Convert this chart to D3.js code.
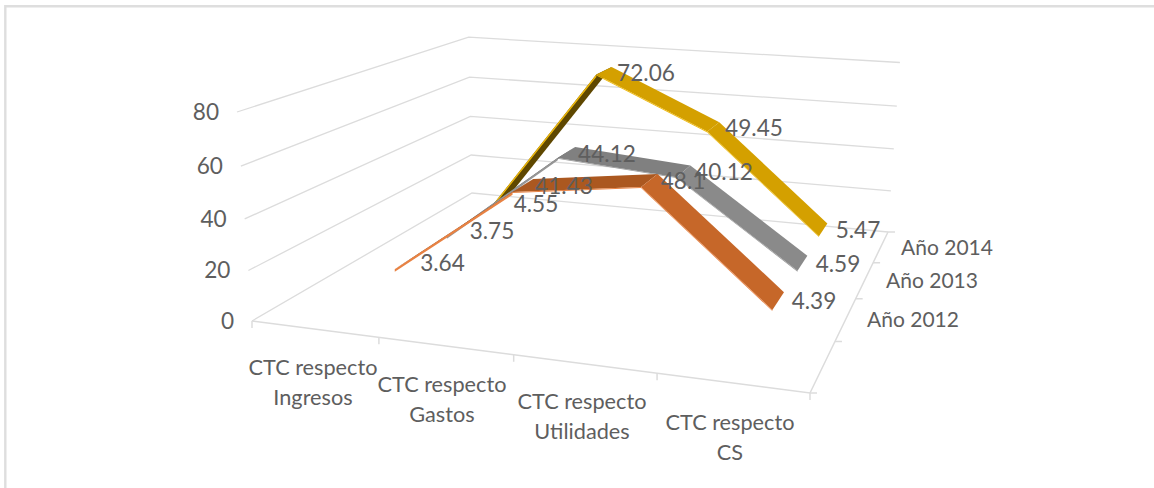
<!DOCTYPE html>
<html lang="es">
<head>
<meta charset="utf-8">
<script src="https://cdn.jsdelivr.net/npm/d3@7/dist/d3.min.js"></script>
<style>
  html, body { margin: 0; padding: 0; background: #fff; }
  svg { display: block; }
  text { font-family: Lato, "Open Sans", sans-serif; font-size: 21.7px; fill: #5E5E5E; }
  .num { font-size: 22.6px; }
  .depth { font-size: 21px; }
</style>
</head>
<body>
<svg id="chart" width="1154" height="488"></svg>
<script>
// Ratios per category and year
const categories = ["CTC respecto Ingresos", "CTC respecto Gastos", "CTC respecto Utilidades", "CTC respecto CS"];
const years = ["", "Año 2012", "Año 2013", "Año 2014"];
const year2012 = [3.64, 41.43, 48.1, 4.39];
const year2013 = [3.75, 44.12, 40.12, 4.59];
const year2014 = [4.55, 72.06, 49.45, 5.47];
const valueTicks = [0, 20, 40, 60, 80];

const seriesList = [
  { year: "Año 2014", values: year2014, top: "#D4A000", under: "#5E4700", edge: "#EDB80C", mid: "#D4A000" },
  { year: "Año 2013", values: year2013, top: "#8A8A8A", under: "#5A5A5A", edge: "#969696", mid: "#808080" },
  { year: "Año 2012", values: year2012, top: "#C66729", under: "#7A3F18", edge: "#E88243", mid: "#AB5820" }
];

// Axis scales in the unit box of the 3D plot
const u = d3.scaleBand().domain(categories).range([0, 1]);
const v = d3.scaleBand().domain(years).range([0, 1]);
const w = d3.scaleLinear().domain([0, 80]).range([0, 1]);

// Projective camera: floor homography from the four floor corners, plus a height column
const floor = [[252, 321], [810, 393], [888, 232], [472, 193]];
const camera = (() => {
  const [[x0, y0], [x1, y1], [x2, y2], [x3, y3]] = floor;
  const dx1 = x1 - x2, dx2 = x3 - x2, sx = x0 - x1 + x2 - x3;
  const dy1 = y1 - y2, dy2 = y3 - y2, sy = y0 - y1 + y2 - y3;
  const den = dx1 * dy2 - dx2 * dy1;
  const g = (sx * dy2 - dx2 * sy) / den;
  const h = (dx1 * sy - sx * dy1) / den;
  const j = -0.045;
  return {
    a: x1 - x0 + g * x1, b: x3 - x0 + h * x3, c: x0, a3: 237 * (1 + j) - x0,
    d: y1 - y0 + g * y1, e: y3 - y0 + h * y3, f: y0, b3: 112 * (1 + j) - y0,
    g, h, j
  };
})();
function project(a, b, c) {
  const k = camera;
  const den = 1 + k.g * a + k.h * b + k.j * c;
  return [
    (k.c + k.a * a + k.b * b + k.a3 * c) / den,
    (k.f + k.d * a + k.e * b + k.b3 * c) / den
  ];
}

const svg = d3.select("#chart");
const gridColor = "#DCDCDC";
const outline = d3.line();

// Chart frame: left and top sides
svg.append("path")
  .attr("d", "M5.3,488V6.2H1154")
  .attr("fill", "none").attr("stroke", "#DEDEDE").attr("stroke-width", 2.4);

// Gridlines on the left and back walls
const grid = svg.append("g").attr("fill", "none").attr("stroke", gridColor).attr("stroke-width", 1.3);
valueTicks.forEach(t => {
  grid.append("path").attr("d", outline([project(0, 0, w(t)), project(0, 1, w(t)), project(1, 1, w(t))]));
});

// Floor edges and tick marks
const axes = svg.append("g").attr("fill", "none").attr("stroke", gridColor).attr("stroke-width", 1.5);
axes.append("path").attr("d", outline([project(0, 0, 0), project(1, 0, 0), project(1, 1, 0)]));
d3.range(0, categories.length + 1).forEach(i => {
  const p = project(i / categories.length, 0, 0);
  axes.append("path").attr("d", outline([p, [p[0], p[1] + 7]]));
});
d3.range(0, years.length + 1).forEach(i => {
  const p = project(1, i / years.length, 0);
  axes.append("path").attr("d", outline([p, [p[0] + 7, p[1]]]));
});

// Ribbons, back series first: upper face shaded per segment, with a thin front edge
const halfDepth = 0.055;
const thickness = [0.014, 0.005, 0.005];
seriesList.forEach(s => {
  const b = v(s.year) + v.bandwidth() / 2;
  const g = svg.append("g");
  s.values.slice(1).forEach((val, i) => {
    const a0 = u(categories[i]) + u.bandwidth() / 2;
    const a1 = u(categories[i + 1]) + u.bandwidth() / 2;
    const h0 = w(s.values[i]), h1 = w(val);
    const quad = [project(a0, b - halfDepth, h0), project(a1, b - halfDepth, h1),
                  project(a1, b + halfDepth, h1), project(a0, b + halfDepth, h0)];
    const fill = i === 0 ? s.under : (i === 1 ? s.mid : s.top);
    g.append("path").attr("d", outline(quad) + "Z").attr("fill", fill);
    g.append("path")
      .attr("d", outline([project(a0, b - halfDepth, h0), project(a1, b - halfDepth, h1),
                          project(a1, b - halfDepth, h1 - thickness[i]), project(a0, b - halfDepth, h0 - thickness[i])]) + "Z")
      .attr("fill", s.edge);
  });
});

// Value labels
const valueLabels = [
  [442.5, 263, "3.64"], [492, 231, "3.75"], [536, 204, "4.55"],
  [564, 186, "41.43"], [607, 154, "44.12"], [646, 73, "72.06"],
  [683, 181, "48.1"], [724, 172, "40.12"], [754, 128, "49.45"],
  [814, 301, "4.39"], [838, 264, "4.59"], [858, 230, "5.47"]
];
svg.append("g").attr("text-anchor", "middle").selectAll("text")
  .data(valueLabels).join("text").attr("class", "num")
  .attr("x", d => d[0]).attr("y", d => d[1]).attr("dy", "0.35em").text(d => d[2]);

// Value axis labels
svg.append("g").attr("text-anchor", "end").selectAll("text")
  .data(valueTicks).join("text").attr("class", "num")
  .attr("x", t => project(0, 0, w(t))[0] - 18)
  .attr("y", t => project(0, 0, w(t))[1])
  .attr("dy", "0.35em").text(t => t);

// Category labels in two lines
const catPos = [[313, 368], [442, 385], [582, 402], [730, 423]];
categories.forEach((c, i) => {
  const t = svg.append("text").attr("text-anchor", "middle");
  t.append("tspan").attr("x", catPos[i][0]).attr("y", catPos[i][1] + 7).text("CTC respecto");
  t.append("tspan").attr("x", catPos[i][0]).attr("y", catPos[i][1] + 37).text(c.replace("CTC respecto ", ""));
});

// Depth axis labels
const depthPos = [[947, 248], [932, 281], [913, 320]];
["Año 2014", "Año 2013", "Año 2012"].forEach((y, i) => {
  svg.append("text").attr("class", "depth").attr("x", depthPos[i][0]).attr("y", depthPos[i][1]).attr("dy", "0.35em")
    .attr("text-anchor", "middle").text(y);
});
</script>
</body>
</html>
